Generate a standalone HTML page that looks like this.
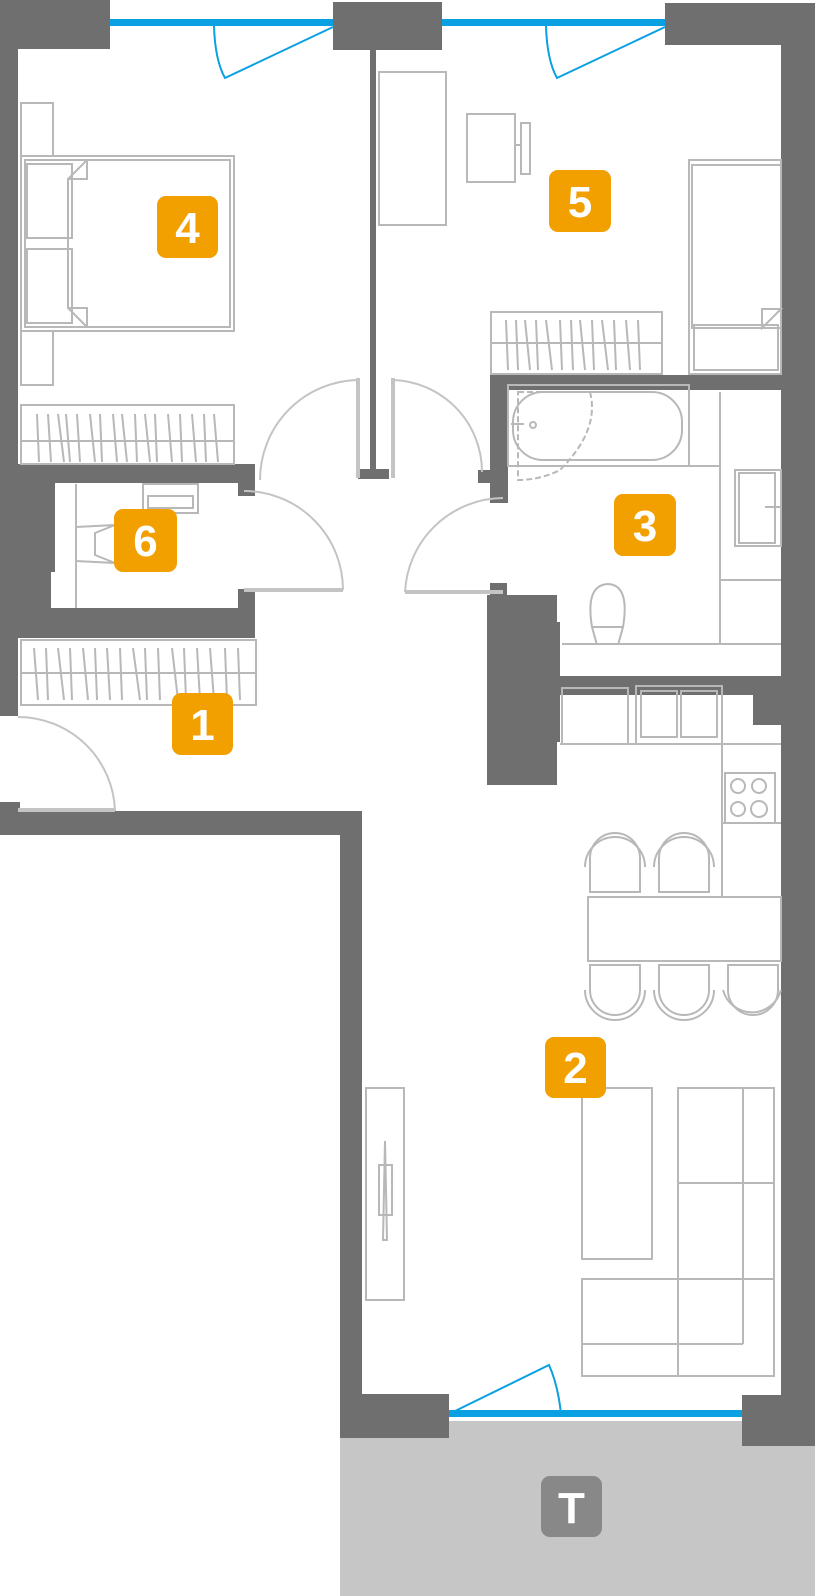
<!DOCTYPE html>
<html><head><meta charset="utf-8"><style>
html,body{margin:0;padding:0;background:#fff;}
svg{display:block}
.w{fill:#6f6f6f}
.f{fill:none;stroke:#b8b8b8;stroke-width:2}
.d{fill:none;stroke:#c4c4c4;stroke-width:2}
.leaf{stroke:#c4c4c4;stroke-width:4}
.b{fill:none;stroke:#0aa0e2;stroke-width:2}
.lab{font-family:"Liberation Sans",sans-serif;font-weight:bold;font-size:44px;fill:#fff;text-anchor:middle}
</style></head><body>
<svg width="815" height="1596" viewBox="0 0 815 1596">
<!-- terrace -->
<rect x="340" y="1421" width="475" height="175" fill="#c6c6c6"/>
<rect x="541" y="1476" width="61" height="61" rx="9" fill="#888"/>
<text x="571.5" y="1523" class="lab">T</text>

<!-- windows -->
<rect x="110" y="19" width="223" height="7" fill="#0aa0e2"/>
<rect x="442" y="19" width="223" height="7" fill="#0aa0e2"/>
<rect x="449" y="1410" width="293" height="7" fill="#0aa0e2"/>
<path class="b" d="M214 26 Q215 60 225 78 L333 27"/>
<path class="b" d="M546 26 Q547 60 557 78 L665 27"/>
<path class="b" d="M449 1414 L549 1365 Q558 1385 561 1414"/>

<!-- walls -->
<rect class="w" x="0" y="0" width="110" height="49"/>
<rect class="w" x="0" y="0" width="18" height="716"/>
<rect class="w" x="333" y="2" width="109" height="48"/>
<rect class="w" x="665" y="3" width="150" height="42"/>
<rect class="w" x="781" y="3" width="34" height="1443"/>
<rect class="w" x="370" y="50" width="6" height="425"/>
<rect class="w" x="358" y="469" width="31" height="10"/>
<rect class="w" x="0" y="464" width="255" height="19"/>
<rect class="w" x="238" y="464" width="17" height="32"/>
<rect class="w" x="0" y="464" width="55" height="108"/>
<rect class="w" x="0" y="464" width="51" height="174"/>
<rect class="w" x="0" y="608" width="255" height="30"/>
<rect class="w" x="238" y="589" width="17" height="49"/>
<rect class="w" x="490" y="375" width="325" height="15"/>
<rect class="w" x="490" y="375" width="18" height="128"/>
<rect class="w" x="478" y="470" width="30" height="13"/>
<rect class="w" x="490" y="583" width="17" height="25"/>
<rect class="w" x="487" y="595" width="70" height="190"/>
<rect class="w" x="557" y="622" width="3" height="120"/>
<rect class="w" x="557" y="676" width="258" height="19"/>
<rect class="w" x="753" y="676" width="62" height="49"/>
<rect class="w" x="0" y="802" width="20" height="33"/>
<rect class="w" x="0" y="811" width="362" height="24"/>
<rect class="w" x="340" y="811" width="22" height="627"/>
<rect class="w" x="340" y="1394" width="109" height="44"/>
<rect class="w" x="742" y="1395" width="73" height="51"/>

<!-- doors -->
<path class="d" d="M358 380 A100 100 0 0 0 260 480"/>
<line class="leaf" x1="358" y1="378" x2="358" y2="478"/>
<path class="d" d="M393 380 A92 92 0 0 1 482 472"/>
<line class="leaf" x1="393" y1="378" x2="393" y2="478"/>
<path class="d" d="M244 491 A99 99 0 0 1 343 590"/>
<line class="leaf" x1="244" y1="590" x2="343" y2="590"/>
<path class="d" d="M503 498 A99 99 0 0 0 405 592"/>
<line class="leaf" x1="405" y1="592" x2="503" y2="592"/>
<path class="d" d="M18 717 A97 97 0 0 1 115 811"/>
<line class="leaf" x1="18" y1="810" x2="115" y2="810"/>

<!-- room 4 -->
<rect class="f" x="21" y="103" width="32" height="53"/>
<rect class="f" x="21" y="331" width="32" height="54"/>
<rect class="f" x="21" y="156" width="213" height="175"/>
<rect class="f" x="25" y="160" width="205" height="167"/>
<rect class="f" x="27" y="164" width="45" height="74"/>
<rect class="f" x="27" y="249" width="45" height="74"/>
<path class="f" d="M87 160 L68 179 L68 308 L87 327 M68 179 L87 179 L87 160 M68 308 L87 308 L87 327" fill="#fff"/>
<rect class="f" x="21" y="405" width="213" height="59"/>
<line class="f" x1="21" y1="441" x2="234" y2="441"/>
<path class="f" d="M37 414 L39 462 M48 414 L51 462 M58 414 L64 462 M66 414 L70 462 M77 414 L80 462 M90 414 L95 462 M100 414 L102 462 M113 414 L117 462 M122 414 L127 462 M135 414 L137 462 M145 414 L150 462 M155 414 L157 462 M168 414 L172 462 M180 414 L182 462 M192 414 L196 462 M204 414 L206 462 M214 414 L218 462"/>

<!-- room 5 -->
<rect class="f" x="379" y="72" width="67" height="153"/>
<rect class="f" x="467" y="114" width="48" height="68"/>
<rect class="f" x="521" y="123" width="9" height="51"/>
<line class="f" x1="515" y1="145" x2="521" y2="145"/>
<rect class="f" x="689" y="160" width="92" height="214"/>
<rect class="f" x="692" y="165" width="89" height="163"/>
<rect class="f" x="694" y="325" width="84" height="45"/>
<path class="f" d="M762 328 L781 309 L762 309 Z" fill="#fff"/>
<rect class="f" x="491" y="312" width="171" height="62"/>
<line class="f" x1="491" y1="343" x2="662" y2="343"/>
<path class="f" d="M506 320 L508 370 M516 320 L518 370 M525 320 L530 370 M536 320 L538 370 M546 320 L552 370 M560 320 L562 370 M571 320 L573 370 M580 320 L585 370 M592 320 L594 370 M602 320 L608 370 M614 320 L616 370 M626 320 L630 370 M638 320 L640 370"/>

<!-- room 6 -->
<line class="f" x1="76" y1="484" x2="76" y2="608"/>
<rect class="f" x="143" y="484" width="55" height="29"/>
<rect class="f" x="148" y="496" width="45" height="12"/>
<path class="f" d="M76 527 L115 525 L95 533 L95 555 L115 563 L76 561"/>

<!-- room 1 wardrobe -->
<rect class="f" x="21" y="640" width="235" height="65"/>
<line class="f" x1="21" y1="673" x2="256" y2="673"/>
<path class="f" d="M34 648 L38 700 M46 648 L48 700 M58 648 L64 700 M70 648 L72 700 M83 648 L88 700 M95 648 L97 700 M107 648 L110 700 M120 648 L122 700 M133 648 L140 700 M145 648 L147 700 M158 648 L160 700 M172 648 L178 700 M184 648 L186 700 M197 648 L200 700 M210 648 L214 700 M225 648 L227 700 M238 648 L240 700"/>

<!-- room 3 bathroom -->
<rect class="f" x="508" y="385" width="181" height="81"/>
<rect class="f" x="513" y="392" width="169" height="68" rx="30"/>
<path d="M518 392 L590 392 Q600 430 560 470 Q540 480 518 480 Z" fill="none" stroke="#b8b8b8" stroke-width="2" stroke-dasharray="6 3"/>
<circle class="f" cx="533" cy="425" r="3"/>
<line class="f" x1="511" y1="424" x2="524" y2="424"/>
<line class="f" x1="508" y1="466" x2="720" y2="466"/>
<line class="f" x1="720" y1="392" x2="720" y2="645"/>
<rect class="f" x="735" y="470" width="46" height="76"/>
<rect class="f" x="739" y="473" width="36" height="70"/>
<line class="f" x1="765" y1="507" x2="781" y2="507"/>
<line class="f" x1="720" y1="580" x2="781" y2="580"/>
<path class="f" d="M592 627 Q585 585 608 584 Q630 585 623 627 L618 645 M597 645 L592 627 L623 627"/>
<line class="f" x1="562" y1="644" x2="781" y2="644"/>

<!-- kitchen -->
<rect class="f" x="562" y="688" width="66" height="56"/>
<rect class="f" x="636" y="686" width="86" height="58"/>
<rect class="f" x="641" y="691" width="36" height="46"/>
<rect class="f" x="681" y="691" width="36" height="46"/>
<line class="f" x1="560" y1="744" x2="781" y2="744"/>
<line class="f" x1="722" y1="744" x2="722" y2="897"/>
<rect class="f" x="725" y="773" width="50" height="50"/>
<circle class="f" cx="738" cy="786" r="7"/><circle class="f" cx="759" cy="786" r="7"/>
<circle class="f" cx="738" cy="809" r="7"/><circle class="f" cx="759" cy="809" r="8"/>
<line class="f" x1="722" y1="823" x2="781" y2="823"/>

<!-- dining -->
<rect class="f" x="588" y="897" width="193" height="64"/>
<g class="f">
<path d="M590 892 L590 858 A25 25 0 0 1 640 858 L640 892 Z"/>
<path d="M585 867 A30 30 0 0 1 645 867"/>
<path d="M659 892 L659 858 A25 25 0 0 1 709 858 L709 892 Z"/>
<path d="M654 867 A30 30 0 0 1 714 867"/>
<path d="M590 965 L590 990 A25 25 0 0 0 640 990 L640 965 Z"/>
<path d="M585 990 A30 30 0 0 0 645 990"/>
<path d="M659 965 L659 990 A25 25 0 0 0 709 990 L709 965 Z"/>
<path d="M654 990 A30 30 0 0 0 714 990"/>
<path d="M728 965 L728 990 A25 25 0 0 0 778 990 L778 965 Z"/>
<path d="M723 990 A30 30 0 0 0 781 990"/>
</g>

<!-- living -->
<rect class="f" x="366" y="1088" width="38" height="212"/>
<rect class="f" x="379" y="1165" width="13" height="50"/>
<path class="f" d="M385 1141 L383 1240 L387 1240 Z"/>
<rect class="f" x="582" y="1088" width="70" height="171"/>
<rect class="f" x="678" y="1088" width="96" height="288"/>
<line class="f" x1="743" y1="1088" x2="743" y2="1344"/>
<line class="f" x1="678" y1="1183" x2="774" y2="1183"/>
<rect class="f" x="582" y="1279" width="192" height="97"/>
<line class="f" x1="582" y1="1344" x2="743" y2="1344"/>

<!-- labels -->
<g fill="#f29f00">
<rect x="157" y="196" width="61" height="62" rx="9"/>
<rect x="549" y="170" width="62" height="62" rx="9"/>
<rect x="614" y="494" width="62" height="62" rx="9"/>
<rect x="114" y="509" width="63" height="63" rx="9"/>
<rect x="172" y="693" width="61" height="62" rx="9"/>
<rect x="545" y="1037" width="61" height="61" rx="9"/>
</g>
<text class="lab" x="187.5" y="243">4</text>
<text class="lab" x="580" y="217">5</text>
<text class="lab" x="645" y="541">3</text>
<text class="lab" x="145.5" y="556">6</text>
<text class="lab" x="202.5" y="740">1</text>
<text class="lab" x="575.5" y="1083">2</text>
</svg>
</body></html>
